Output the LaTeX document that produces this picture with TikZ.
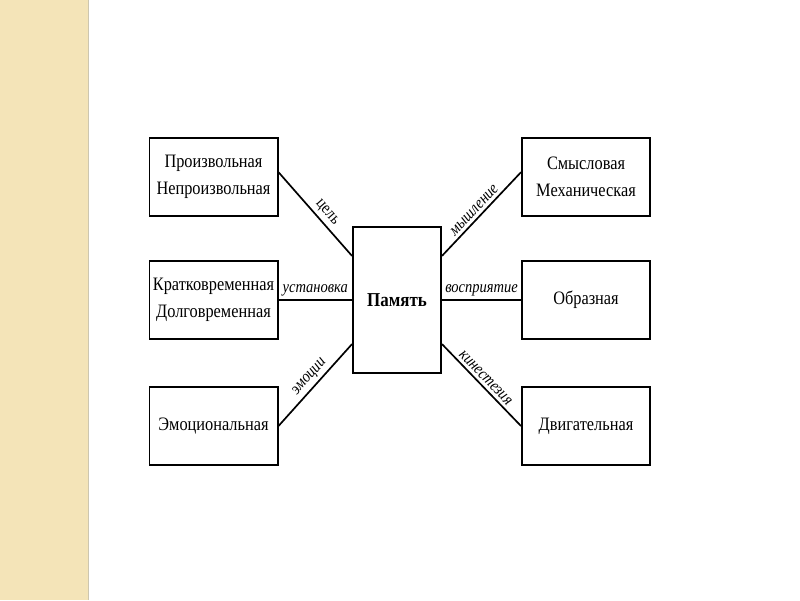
\documentclass[tikz,border=0pt]{standalone}
\usepackage{fontspec}
\setmainfont[FakeStretch=0.86]{Liberation Serif}
\usetikzlibrary{calc}
\definecolor{strip}{RGB}{244,228,184}
\definecolor{stripedge}{RGB}{205,198,175}

\begin{document}
\begin{tikzpicture}[x=0.025cm,y=0.025cm,
    box/.style={draw,line width=1.4pt,minimum width=3.2cm,minimum height=1.95cm,
        inner sep=0pt,align=center,font=\fontsize{13.5}{19.5}\selectfont},
    link/.style={line width=1.2pt},
    lbl/.style={font=\fontsize{12}{13}\selectfont\itshape,inner sep=2pt}]
    \useasboundingbox (0,0) rectangle (800,600);
    \fill[strip] (0,0) rectangle (88,600);
    \draw[stripedge,line width=1pt] (88.5,0)--(88.5,600);
    % centre
    \node[box,minimum width=2.2cm,minimum height=3.625cm,
        font=\fontsize{14}{19.5}\selectfont\bfseries] (mem) at (397,300) {Память};
    % left column
    \node[box] (pl) at (213.5,423) {Произвольная\\Непроизвольная};
    \node[box] (kd) at (213.5,300) {Кратковременная\\Долговременная};
    \node[box] (em) at (213.5,174) {Эмоциональная};
    % right column
    \node[box] (sm) at (586,423) {Смысловая\\Механическая};
    \node[box] (ob) at (586,300) {Образная};
    \node[box] (dv) at (586,174) {Двигательная};
    \draw[link] ($(pl.north east)!0.44!(pl.south east)$)
        -- node[lbl,sloped,above,pos=0.56,font=\fontsize{12}{13}\selectfont] {цель}
        ($(mem.north west)!0.2!(mem.south west)$);
    \draw[link] (kd.east) -- node[lbl,above] {установка} (kd.east-|mem.west);
    \draw[link] (em.east)
        -- node[lbl,sloped,above,pos=0.52] {эмоции}
        ($(mem.north west)!0.8!(mem.south west)$);
    \draw[link] ($(mem.north east)!0.2!(mem.south east)$)
        -- node[lbl,sloped,above,pos=0.48] {мышление}
        ($(sm.north west)!0.44!(sm.south west)$);
    \draw[link] (ob.west-|mem.east) -- node[lbl,above] {восприятие} (ob.west);
    \draw[link] ($(mem.north east)!0.8!(mem.south east)$)
        -- node[lbl,sloped,above,pos=0.48] {кинестезия}
        (dv.west);
\end{tikzpicture}
\end{document}
